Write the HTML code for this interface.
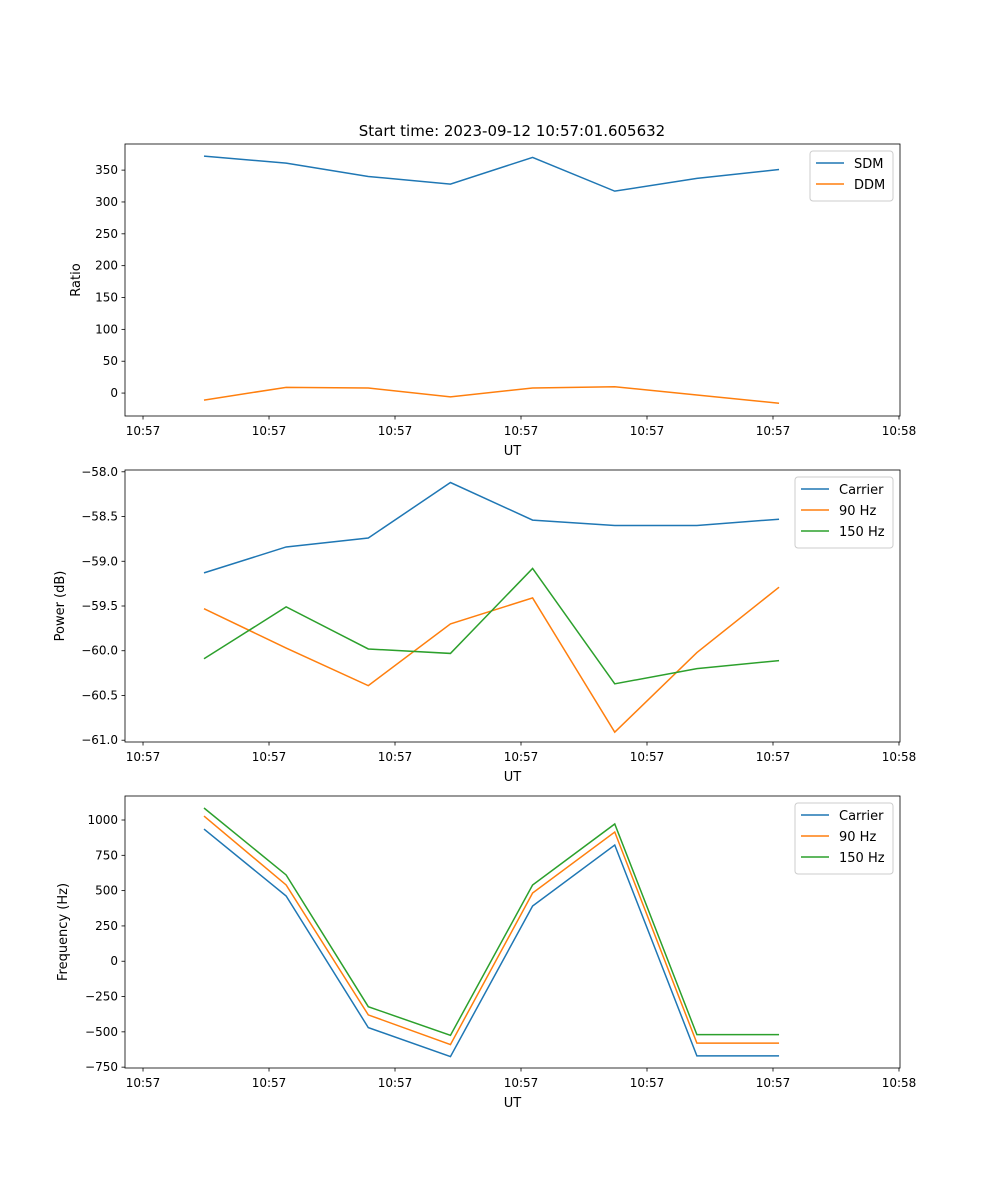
<!DOCTYPE html>
<html><head><meta charset="utf-8"><style>
body{margin:0;background:#fff}
svg{display:block;font-family:"DejaVu Sans","Liberation Sans",sans-serif}
</style></head><body>
<svg id="fig" width="1000" height="1200">
<text x="512" y="136" font-size="15" text-anchor="middle">Start time: 2023-09-12 10:57:01.605632</text>
</svg>
<script>
// shared x data (seconds after 10:57:00)
const times = [4.84, 11.36, 17.88, 24.40, 30.92, 37.44, 43.96, 50.48];
const xTickVals = [0, 10, 20, 30, 40, 50, 60];
const xTickLabels = ["10:57","10:57","10:57","10:57","10:57","10:57","10:58"];
// panel 1
const sdm = [372, 361, 340, 328, 370, 317, 337, 351];
const ddm = [-11, 9, 8, -6, 8, 10, -3, -16];
const ratioTicks = [0, 50, 100, 150, 200, 250, 300, 350];
// panel 2
const powCarrier = [-59.13, -58.84, -58.74, -58.12, -58.54, -58.60, -58.60, -58.53];
const pow90 = [-59.53, -59.97, -60.39, -59.70, -59.41, -60.91, -60.02, -59.29];
const pow150 = [-60.09, -59.51, -59.98, -60.03, -59.08, -60.37, -60.20, -60.11];
const powTicks = [-61.0, -60.5, -60.0, -59.5, -59.0, -58.5, -58.0];
// panel 3
const freqCarrier = [936, 462, -470, -675, 391, 823, -670, -670];
const freq90 = [1028, 540, -380, -590, 483, 915, -580, -580];
const freq150 = [1085, 611, -322, -525, 540, 972, -520, -520];
const freqTicks = [-750, -500, -250, 0, 250, 500, 750, 1000];

const NS = "http://www.w3.org/2000/svg";
const svg = document.getElementById('fig');
function mk(tag, attrs, parent){const e=document.createElementNS(NS,tag);for(const k in attrs)e.setAttribute(k,attrs[k]);(parent||svg).appendChild(e);return e;}
const L=125,R=900,XMIN=-1.43,XMAX=60.08;
const xs=t=>L+(t-XMIN)/(XMAX-XMIN)*(R-L);
const C={blue:"#1f77b4",orange:"#ff7f0e",green:"#2ca02c"};

function panel(name,top,bot,ymin,ymax,yTicks,fmt,ylabel,series,legW){
  const g=mk('g',{});
  
  
  const ys=v=>bot-(v-ymin)/(ymax-ymin)*(bot-top);
  series.forEach(s=>{
    const p=mk('polyline',{points:s.data.map((v,i)=>xs(times[i])+','+ys(v)).join(' '),fill:'none',stroke:s.color,'stroke-width':1.5},g);
    
    
  });
  const fr=mk('rect',{x:L,y:top,width:R-L,height:bot-top,fill:'none',stroke:'#000','stroke-width':0.8},g);
  
  
  xTickVals.forEach((t,i)=>{
    const x=xs(t);
    mk('line',{x1:x,x2:x,y1:bot,y2:bot+3.5,stroke:'#000','stroke-width':0.8},g);
    const tx=mk('text',{x:x,y:bot+19,'font-size':12,'text-anchor':'middle'},g);
    tx.textContent=xTickLabels[i];
    
    
  });
  yTicks.forEach(v=>{
    const y=ys(v);
    mk('line',{x1:L-3.5,x2:L,y1:y,y2:y,stroke:'#000','stroke-width':0.8},g);
    const tx=mk('text',{x:L-7,y:y+4,'font-size':12,'text-anchor':'end'},g);
    tx.textContent=fmt(v);
    
    
  });
  const xl=mk('text',{x:(L+R)/2,y:bot+39,'font-size':13,'text-anchor':'middle'},g);
  xl.textContent='UT';
  
  
  const yl=mk('text',{x:0,y:0,'font-size':13,'text-anchor':'middle',transform:`translate(${ylabel.x},${(top+bot)/2}) rotate(-90)`},g);
  yl.textContent=ylabel.t;
  
  
  const lg=mk('g',{},g);
  
  
  const lx=R-7-legW, ly=top+7, h=series.length*21+8;
  mk('rect',{x:lx,y:ly,width:legW,height:h,rx:3,fill:'#fff',stroke:'#ccc','stroke-width':1},lg);
  series.forEach((s,i)=>{
    const yy=ly+12+i*21;
    mk('line',{x1:lx+6,x2:lx+34,y1:yy,y2:yy,stroke:s.color,'stroke-width':1.5},lg);
    const t=mk('text',{x:lx+44,y:yy+5,'font-size':13},lg);
    t.textContent=s.label;
    
    
  });
}
panel('ratio-panel',144,416,-36,391,ratioTicks,v=>String(v),{x:80,t:'Ratio'},
  [{key:'sdm',label:'SDM',data:sdm,color:C.blue},{key:'ddm',label:'DDM',data:ddm,color:C.orange}],83);
panel('power-panel',470,742,-61.02,-57.98,powTicks,v=>v.toFixed(1).replace('-','\u2212'),{x:64,t:'Power (dB)'},
  [{key:'carrier',label:'Carrier',data:powCarrier,color:C.blue},{key:'90hz',label:'90 Hz',data:pow90,color:C.orange},{key:'150hz',label:'150 Hz',data:pow150,color:C.green}],98);
panel('frequency-panel',796,1068,-756,1170,freqTicks,v=>String(v).replace('-','\u2212'),{x:67,t:'Frequency (Hz)'},
  [{key:'carrier',label:'Carrier',data:freqCarrier,color:C.blue},{key:'90hz',label:'90 Hz',data:freq90,color:C.orange},{key:'150hz',label:'150 Hz',data:freq150,color:C.green}],98);
</script>
</body></html>
